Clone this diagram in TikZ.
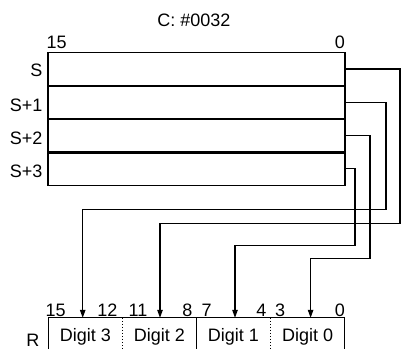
\documentclass[tikz,border=0pt]{standalone}
\usepackage{fontspec}
\setmainfont{Liberation Sans}
\usetikzlibrary{arrows.meta}
\begin{document}
\begin{tikzpicture}[x=1pt,y=-1pt,
  lbl/.style={inner sep=0pt,font=\fontsize{18}{21}\selectfont},
  rowbox/.style={draw,line width=1.1pt,minimum width=297pt,minimum height=33.2pt,inner sep=0pt},
  sepline/.style={line width=1.9pt},
  cell/.style={inner sep=0pt,minimum width=74pt,minimum height=31pt},
  conn/.style={line width=1.1pt},
  arr/.style={conn,-{Triangle[length=8pt,width=5.5pt]}},
  dotline/.style={line width=1pt,dash pattern=on 1.5pt off 1.5pt}
]
\useasboundingbox (0,0) rectangle (401,349);
% title
\node[lbl,anchor=base] (title) at (194,26.5) {C: \#0032};
\node[lbl,anchor=base west] (t15) at (46.5,48.5) {15};
\node[lbl,anchor=base east] (t0) at (345,48.5) {0};
% rows
\node[rowbox] (s0) at (196.5,69) {};
\node[rowbox] (s1) at (196.5,102.2) {};
\node[rowbox] (s2) at (196.5,135.4) {};
\node[rowbox] (s3) at (196.5,168.6) {};
\draw[sepline] (s0.south west) -- (s0.south east);
\draw[sepline] (s1.south west) -- (s1.south east);
\draw[sepline] (s2.south west) -- (s2.south east);
\node[lbl,anchor=base east] (ls0) at (42.7,76) {S};
\node[lbl,anchor=base east] (ls1) at (42.7,111) {S+1};
\node[lbl,anchor=base east] (ls2) at (42.7,144.5) {S+2};
\node[lbl,anchor=base east] (ls3) at (42.7,177.5) {S+3};
% result cells
\node[cell] (d3) at (85.3,333.5) {};
\node[cell] (d2) at (159.5,333.5) {};
\node[cell] (d1) at (233.5,333.5) {};
\node[cell] (d0) at (307.6,333.5) {};
\draw[line width=1.1pt] (d3.south west) -- (d3.north west) -- (d0.north east) -- (d0.south east);
\draw[dotline] (d3.north east) -- (d3.south east);
\draw[line width=1.1pt] (d2.north east) -- (d2.south east);
\draw[dotline] (d1.north east) -- (d1.south east);
\node[lbl,anchor=base] at (d3 |- 0,341.5) {Digit 3};
\node[lbl,anchor=base] at (d2 |- 0,341.5) {Digit 2};
\node[lbl,anchor=base] at (d1 |- 0,341.5) {Digit 1};
\node[lbl,anchor=base] at (d0 |- 0,341.5) {Digit 0};
\node[lbl,anchor=base east] (lr) at (39.5,346.5) {R};
% bit numbers
\node[lbl,anchor=base west] (b15) at (45.5,316) {15};
\node[lbl,anchor=base east] (b12) at (117.5,316) {12};
\node[lbl,anchor=base west] (b11) at (128.5,316) {11};
\node[lbl,anchor=base east] (b8) at (192.5,316) {8};
\node[lbl,anchor=base west] (b7) at (201.5,316) {7};
\node[lbl,anchor=base east] (b4) at (266.7,316) {4};
\node[lbl,anchor=base west] (b3) at (275,316) {3};
\node[lbl,anchor=base east] (b0) at (345,316) {0};
% connectors
\coordinate (c0) at (400,223.3);
\coordinate (c1) at (386,209.3);
\coordinate (c2) at (370,258.3);
\coordinate (c3) at (355,245.7);
\draw[arr] (s0.east) -| (c0) -| ([xshift=0.5pt]d2.north);
\draw[arr] (s1.east) -| (c1) -| ([xshift=-2.6pt]d3.north);
\draw[arr] (s2.east) -| (c2) -| ([xshift=3pt]d0.north);
\draw[arr] (s3.east) -| (c3) -| ([xshift=1.5pt]d1.north);
\end{tikzpicture}
\end{document}
